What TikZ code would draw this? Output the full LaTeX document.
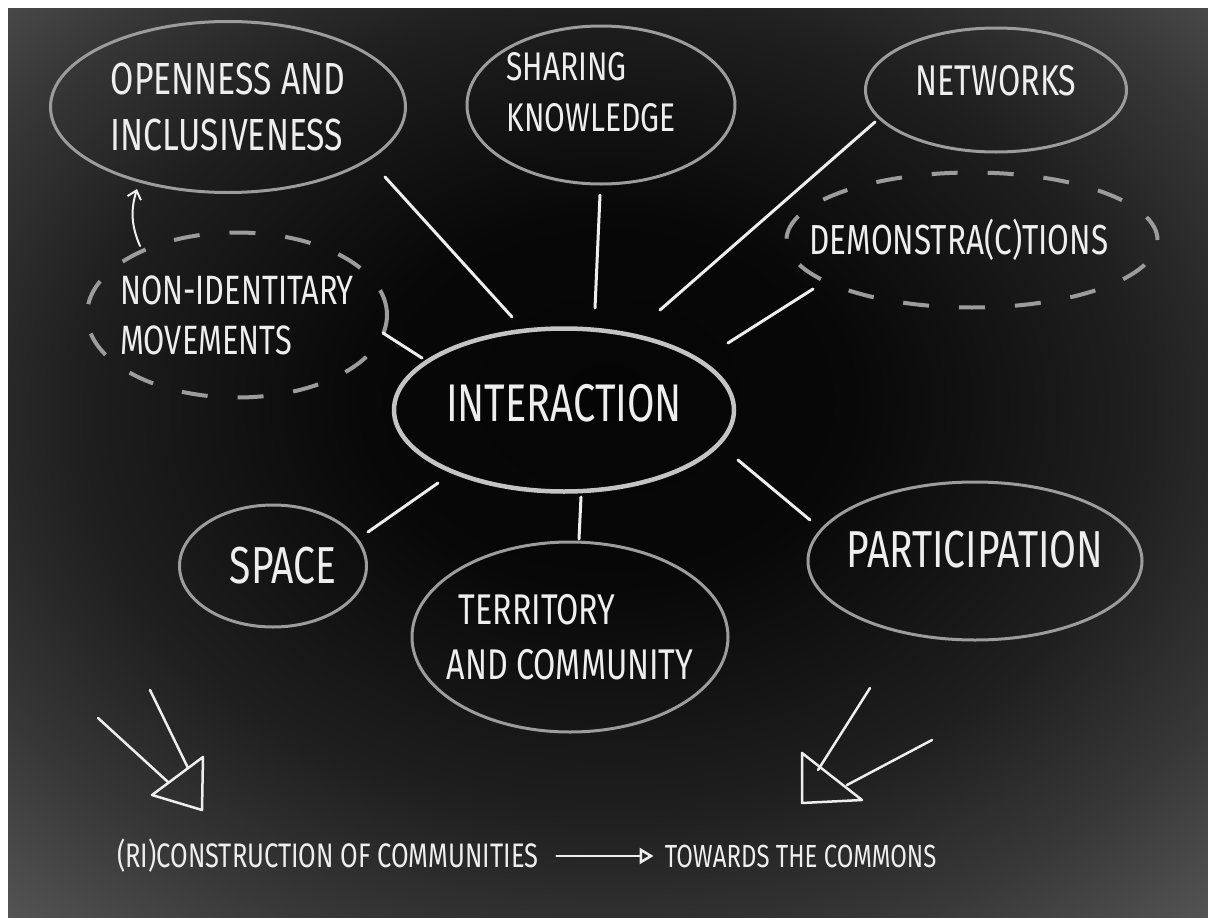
\documentclass[tikz,border=0pt]{standalone}
\usepackage{fontspec}
\usetikzlibrary{shapes.geometric}
\usetikzlibrary{positioning}
\usetikzlibrary {arrows.meta}
\newfontfamily\chalk[FakeStretch=0.75]{Fira Sans}
\definecolor{chalk}{HTML}{EEEEEE}
\definecolor{chalkgrey}{HTML}{9C9C9C}
\definecolor{chalkbright}{HTML}{C4C4C4}
\pgfdeclareradialshading{chalkboard}{\pgfpoint{0bp}{4bp}}{color(0bp)=(black!98);
color(10bp)=(black!97); color(22bp)=(black!88); color(30bp)=(black!78); color(40bp)=(black!62); color(50bp)=(black!56); color(72bp)=(black!55)}
\tikzset{bubble/.style={ellipse,draw=chalkgrey,line width=3pt,
inner sep=-40pt,text=chalk,align=left}}
\tikzset{dashbubble/.style={bubble,dash pattern=on 26pt off 30pt,line width=4pt}}
\tikzset{spoke/.style={draw=chalk,line width=3pt,line cap=round}}
\tikzset{chalkline/.style={draw=chalk,line width=2.5pt,line cap=round,line join=round}}
\tikzset{caption/.style={text=chalk,inner sep=0pt,
font=\chalk\fontsize{34}{40}\selectfont}}

\begin{document}
\begin{tikzpicture}[x=1pt,y=-1pt]
    \useasboundingbox (0,0) rectangle (1208,918);
    \fill[white] (0,0) rectangle (1208,918);
    \shade[shading=chalkboard] (8,8) rectangle (1208,918);

    \node[bubble,draw=chalkbright,line width=4.5pt,minimum width=340pt,minimum height=163pt,
        font=\chalk\fontsize{53}{64}\selectfont,text depth=14pt] (inter) at (564,410) {INTERACTION};

    \node[bubble,minimum width=355pt,minimum height=171pt,
        font=\chalk\fontsize{45}{56}\selectfont] (open) at (228,107) {OPENNESS AND\\INCLUSIVENESS};
    \node[bubble,minimum width=268pt,minimum height=158pt,
        font=\chalk\fontsize{40}{51}\selectfont,text depth=26pt] (share) at (601,105) {SHARING\\KNOWLEDGE\hspace*{20pt}};
    \node[bubble,minimum width=261pt,minimum height=124pt,
        font=\chalk\fontsize{43}{50}\selectfont,text depth=20pt] (net) at (996,90) {NETWORKS};
    \node[dashbubble,minimum width=371pt,minimum height=135pt,
        font=\chalk\fontsize{42}{50}\selectfont] (demo) at (972,240) {DEMONSTRA(C)TIONS\hspace*{26pt}};
    \node[dashbubble,minimum width=300pt,minimum height=165pt,
        font=\chalk\fontsize{41}{50}\selectfont] (nonid) at (237,315) {NON-IDENTITARY\\MOVEMENTS};
    \node[bubble,minimum width=187pt,minimum height=122pt,
        font=\chalk\fontsize{52}{60}\selectfont] (space) at (273,566) {\hspace*{20pt}SPACE};
    \node[bubble,minimum width=316pt,minimum height=190pt,
        font=\chalk\fontsize{43}{55}\selectfont] (terr) at (570,637) {\hspace*{12pt}TERRITORY\\AND COMMUNITY};
    \node[bubble,minimum width=334pt,minimum height=158pt,
        font=\chalk\fontsize{52}{60}\selectfont,text depth=24pt] (part) at (975,561) {PARTICIPATION};

    % spokes round the centre
    \draw[spoke] ([shift={(157,70)}]open.center) -- ([shift={(-52,-93)}]inter.center);
    \draw[spoke] ([shift={(-1,90)}]share.center) -- ([shift={(31,-102)}]inter.center);
    \draw[spoke] ([shift={(-121,32)}]net.center) -- ([shift={(96,-100)}]inter.center);
    \draw[spoke] ([shift={(-159,49)}]demo.center) -- ([shift={(164,-67)}]inter.center);
    \draw[spoke] ([shift={(146,18)}]nonid.center) -- ([shift={(-142,-52)}]inter.center);
    \draw[spoke] ([shift={(95,-34)}]space.center) -- ([shift={(-126,73)}]inter.center);
    \draw[spoke] ([shift={(9,-98)}]terr.center) -- ([shift={(17,87)}]inter.center);
    \draw[spoke] ([shift={(-165,-41)}]part.center) -- ([shift={(174,50)}]inter.center);

    \draw[chalkline,line width=2pt,-{Straight Barb[length=8pt,width=14pt]}]
        ([shift={(-97,-69)}]nonid.center) to[bend left=20] ([shift={(-91,82)}]open.center);

    % the two big arrows
    \draw[chalkline] (98,718) -- (168,782);
    \draw[chalkline] (150,690) -- (188,768);
    \draw[chalkline] (152,795) -- (203,757) -- (202,810) -- cycle;
    \draw[chalkline] (870,688) -- (818,770);
    \draw[chalkline] (932,740) -- (847,785);
    \draw[chalkline] (802,753) -- (862,800) -- (802,803) -- cycle;

    \node[caption,anchor=west] (recon) at (117,856) {(RI)CONSTRUCTION OF COMMUNITIES};
    \node[caption,font=\chalk\fontsize{32}{38}\selectfont] (commons) [right=126pt of recon] {TOWARDS THE COMMONS};
    \draw[chalkline,shorten <=18pt,shorten >=11pt,-{Triangle[open,length=14pt,width=16pt]}]
        (recon) -- (commons);

\end{tikzpicture}
\end{document}
